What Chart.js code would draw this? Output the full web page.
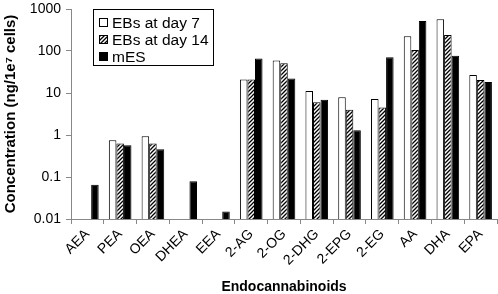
<!DOCTYPE html>
<html><head><meta charset="utf-8">
<script src="https://cdn.jsdelivr.net/npm/chart.js@4/dist/chart.umd.min.js"></script>
<style>html,body{margin:0;padding:0;background:#fff;}</style>
</head><body>
<canvas id="c" width="498" height="294"></canvas>
<script>
const categories = ['AEA','PEA','OEA','DHEA','EEA','2-AG','2-OG','2-DHG','2-EPG','2-EG','AA','DHA','EPA'];
const seriesNames = ['EBs at day 7','EBs at day 14','mES'];
const day7  = [null, 0.75, 0.93, null, null, 21, 59, 11.2, 7.9, 7.2, 224, 568, 27];
const day14 = [null, 0.63, 0.63, null, null, 21, 51, 6.0, 4.0, 4.5, 106, 240, 20.4];
const mES   = [0.065, 0.57, 0.46, 0.079, 0.015, 66, 22, 6.9, 1.3, 71, 518, 77, 18.3];
const yTicks = [0.01, 0.1, 1, 10, 100, 1000];
const yTitle = 'Concentration (ng/1e\u2077 cells)';
const xTitle = 'Endocannabinoids';

const FONT = '"Liberation Sans", Arial, sans-serif';
const canvas = document.getElementById('c');
const ctx0 = canvas.getContext('2d');

function hatch(){
  const p = document.createElement('canvas'); p.width = 4; p.height = 4;
  const g = p.getContext('2d');
  g.fillStyle = '#fff'; g.fillRect(0,0,4,4);
  g.strokeStyle = '#000'; g.lineWidth = 1.3;
  g.beginPath();
  g.moveTo(0,4); g.lineTo(4,0);
  g.moveTo(-1,1); g.lineTo(1,-1);
  g.moveTo(3,5); g.lineTo(5,3);
  g.stroke();
  return ctx0.createPattern(p, 'repeat');
}
const hatchPattern = hatch();

const boxLegend = {
  id: 'boxLegend',
  afterDraw(chart){
    const ctx = chart.ctx;
    ctx.save();
    ctx.fillStyle = '#fff';
    ctx.fillRect(93, 9, 120, 56);
    ctx.strokeStyle = '#000'; ctx.lineWidth = 1;
    ctx.strokeRect(93.5, 9.5, 120, 56);
    chart.data.datasets.forEach((ds, i) => {
      const y = 22.5 + 17 * i;
      ctx.fillStyle = ds.backgroundColor;
      ctx.fillRect(99, y - 4.5, 9, 9);
      ctx.strokeRect(99.5, y - 4, 8, 8);
      ctx.fillStyle = '#000';
      ctx.font = '15.5px ' + FONT;
      ctx.textBaseline = 'middle';
      ctx.textAlign = 'left';
      ctx.fillText(ds.label, 112, y + 1);
    });
    ctx.restore();
  }
};

new Chart(canvas, {
  type: 'bar',
  data: {
    labels: categories,
    datasets: [
      {label: seriesNames[0], data: day7, backgroundColor: '#fff', borderColor: '#000', borderWidth: 1},
      {label: seriesNames[1], data: day14, backgroundColor: hatchPattern, borderColor: '#000', borderWidth: 1},
      {label: seriesNames[2], data: mES, backgroundColor: '#000', borderColor: '#000', borderWidth: 1}
    ]
  },
  options: {
    responsive: false,
    animation: false,
    devicePixelRatio: 1,
    layout: {padding: {top: 9, right: 1, left: 0, bottom: 0}},
    datasets: {bar: {barPercentage: 1, categoryPercentage: 0.69}},
    plugins: {legend: {display: false}, tooltip: {enabled: false}},
    scales: {
      x: {
        grid: {display: true, drawOnChartArea: false, drawTicks: true, tickLength: 5, color: '#888'},
        border: {color: '#888', width: 1},
        ticks: {color: '#000', font: {family: FONT, size: 14}, minRotation: 45, maxRotation: 45, padding: 2, autoSkip: false},
        title: {display: true, text: xTitle, color: '#000', font: {family: FONT, size: 14, weight: 'bold', lineHeight: 1}, padding: {top: 0, bottom: 0}},
        afterFit(s){ s.height = 75; s.paddingLeft = 0; s.paddingRight = 0; }
      },
      y: {
        type: 'logarithmic',
        min: 0.01, max: 1000,
        grid: {display: true, drawOnChartArea: false, drawTicks: true, tickLength: 5, color: '#888'},
        border: {color: '#888', width: 1},
        afterBuildTicks(s){ s.ticks = yTicks.map(v => ({value: v})); },
        ticks: {color: '#000', font: {family: FONT, size: 14}, padding: 5, callback: v => String(v)},
        title: {display: true, text: yTitle, color: '#000', font: {family: FONT, size: 15, weight: 'bold'}, padding: {top: 2, bottom: 0}},
        afterFit(s){ s.width = 71; s.paddingTop = 0; s.paddingBottom = 0; }
      }
    }
  },
  plugins: [boxLegend]
});
</script>
</body></html>
